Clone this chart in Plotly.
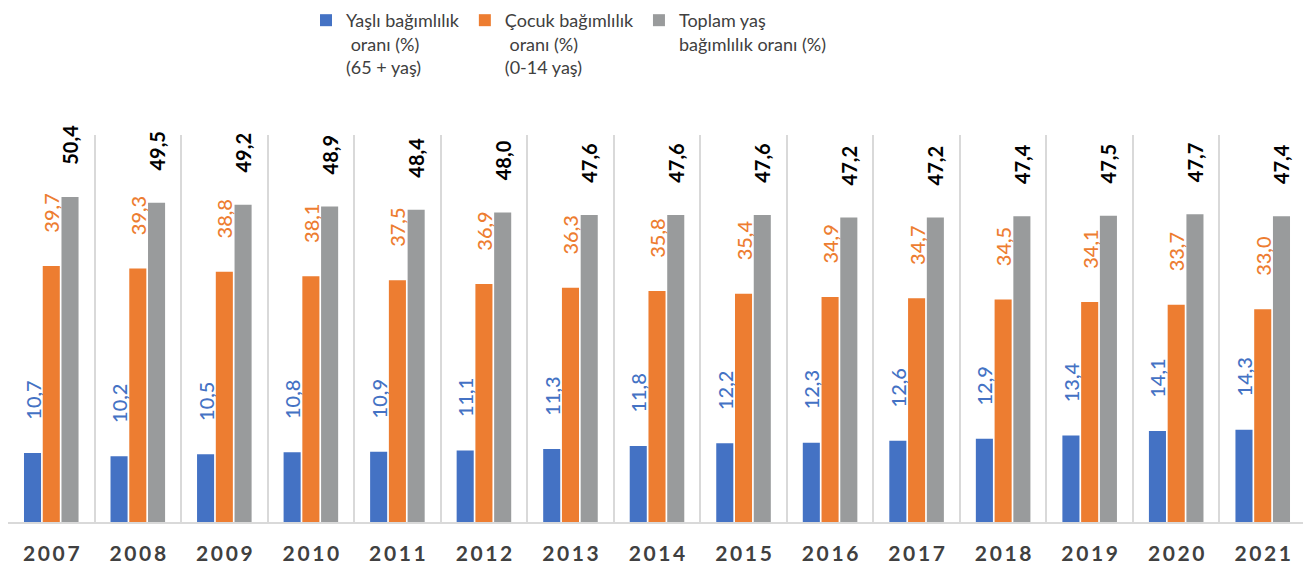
import plotly.graph_objects as go

years = ["2007", "2008", "2009", "2010", "2011", "2012", "2013", "2014",
         "2015", "2016", "2017", "2018", "2019", "2020", "2021"]
yasli = [10.7, 10.2, 10.5, 10.8, 10.9, 11.1, 11.3, 11.8, 12.2, 12.3, 12.6, 12.9, 13.4, 14.1, 14.3]
cocuk = [39.7, 39.3, 38.8, 38.1, 37.5, 36.9, 36.3, 35.8, 35.4, 34.9, 34.7, 34.5, 34.1, 33.7, 33.0]
toplam = [50.4, 49.5, 49.2, 48.9, 48.4, 48.0, 47.6, 47.6, 47.6, 47.2, 47.2, 47.4, 47.5, 47.7, 47.4]

names = ["Yaşlı bağımlılık<br> oranı (%)<br>(65 + yaş)",
         "Çocuk bağımlılık<br> oranı (%)<br>(0-14 yaş)",
         "Toplam yaş<br>bağımlılık oranı (%)"]
colors = ["#4472C4", "#ED7D31", "#999B9C"]
label_colors = ["#4472C4", "#ED7D31", "#000000"]
label_weights = [500, 500, "bold"]

tick_text = ["\u2009".join(list(y)) for y in years]
PAD = "\u00a0" * 6

fig = go.Figure()
for vals, nm, col, lcol, lw in zip([yasli, cocuk, toplam], names, colors, label_colors, label_weights):
    fig.add_trace(go.Bar(
        x=years, y=vals, name=nm,
        marker=dict(color=col, line=dict(width=0)),
        text=[PAD + f"{v:.1f}".replace(".", ",") for v in vals],
        textposition="outside",
        textangle=-90,
        constraintext="none",
        cliponaxis=False,
        textfont=dict(family="Lato", size=20, color=lcol, weight=lw),
    ))

# page body adds an 8px offset; the figure is sized to fit the window
fig.update_layout(
    width=1303, height=561,
    margin=dict(l=0, r=5, t=127, b=47, autoexpand=False),
    paper_bgcolor="white", plot_bgcolor="white",
    barmode="group", bargap=0.35, bargroupgap=0.09,
    font=dict(family="Lato", color="#404040"),
    showlegend=True,
    legend=dict(
        orientation="h", x=0.2296, xanchor="left", y=1.3437, yanchor="top",
        valign="top", font=dict(family="Lato", size=18, color="#404040"),
        bgcolor="rgba(0,0,0,0)", entrywidth=0,
    ),
    xaxis=dict(
        type="category", tickson="boundaries", showgrid=True, gridcolor="#D9D9D9",
        gridwidth=1.5, showline=True, linecolor="#D9D9D9", linewidth=1.5, mirror=False,
        ticks="", tickvals=years, ticktext=tick_text, ticklabelstandoff=12,
        tickfont=dict(family="Lato", size=21, color="#404040", weight="bold"),
        zeroline=False,
    ),
    yaxis=dict(range=[0, 60], showgrid=False, showticklabels=False, zeroline=False,
               showline=False, ticks=""),
)

fig.write_html("out.html")
